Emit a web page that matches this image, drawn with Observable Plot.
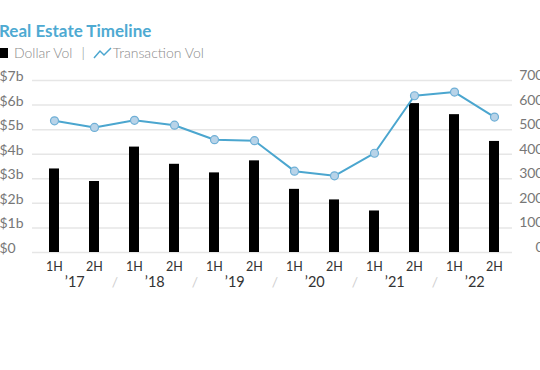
<!DOCTYPE html>
<html>
<head>
<meta charset="utf-8">
<script src="https://cdn.jsdelivr.net/npm/d3@7"></script>
<script src="https://cdn.jsdelivr.net/npm/@observablehq/plot@0.6"></script>
<style>
  html, body { margin: 0; padding: 0; background: #fff; overflow: hidden; width: 540px; height: 370px; }
  #header { position: relative; height: 62px; font-family: Lato, "Open Sans", sans-serif; }
  #title { position: absolute; left: -1px; top: 20px; font-size: 17px; font-weight: 700; color: #4eaad2; white-space: nowrap; line-height: 22px; }
  #legend { position: absolute; left: -1px; top: 45px; font-size: 14px; font-weight: 300; color: #8a8a8a; white-space: nowrap; line-height: 16px; display: flex; align-items: center; }
  .sw { display: inline-block; width: 9px; height: 10px; background: #000; margin-right: 6px; }
  .sep { margin: 0 8px 0 9px; color: #888; }
  #chart svg { display: block; }
</style>
</head>
<body>
<div id="header">
  <div id="title">Real Estate Timeline</div>
  <div id="legend"><span class="sw"></span><span>Dollar Vol</span><span class="sep">|</span><svg width="19" height="12" style="margin-right:1px"><polyline points="1,11 7,4 11,8 18,1" fill="none" stroke="#4ba6cf" stroke-width="1.5"/></svg><span>Transaction Vol</span></div>
</div>
<div id="chart"></div>
<script>
const halves = ["1H","2H","1H","2H","1H","2H","1H","2H","1H","2H","1H","2H"];
const years = ["’17","’18","’19","’20","’21","’22"];
const dollarVol = [3.4, 2.89, 4.29, 3.59, 3.24, 3.73, 2.57, 2.14, 1.69, 6.06, 5.61, 4.52]; // $ billions
const transactionVol = [536, 509, 538, 518, 459, 455, 331, 312, 404, 638, 653, 551];
const leftTicks = [0, 1, 2, 3, 4, 5, 6, 7];
const leftLabels = ["$0","$1b","$2b","$3b","$4b","$5b","$6b","$7b"];
const rightLabels = ["0","100","200","300","400","500","600","700"];

const periods = halves.map((h, i) => years[Math.floor(i / 2)] + " " + h);
const rows = periods.map((p, i) => ({period: p, half: halves[i], dollar: dollarVol[i], tx: transactionVol[i] / 100}));
const yearRows = years.map((y, i) => ({year: y, first: periods[i * 2], second: periods[i * 2 + 1], last: i === years.length - 1}));

const font = "Lato, 'Open Sans', sans-serif";

const chart = Plot.plot({
  width: 540,
  height: 240,
  marginTop: 18,
  marginBottom: 50,
  marginLeft: 32,
  marginRight: 28,
  style: {fontFamily: font, background: "white"},
  x: {type: "band", domain: periods, paddingInner: 0.75, paddingOuter: 0.23, insetLeft: 4, align: 0.5},
  y: {domain: [0, 7]},
  marks: [
    Plot.gridY(leftTicks, {stroke: "#e6e6e6", strokeOpacity: 1, strokeWidth: 1.5}),
    Plot.axisY(leftTicks, {anchor: "left", tickSize: 0, tickPadding: 0, textAnchor: "start", dx: -33, dy: -4,
      tickFormat: (d) => leftLabels[leftTicks.indexOf(d)], fontSize: 14, fill: "#777", label: null}),
    Plot.axisY(leftTicks, {anchor: "right", tickSize: 0, tickPadding: 0, textAnchor: "end", dx: 31, dy: -5,
      tickFormat: (d) => rightLabels[leftTicks.indexOf(d)], fontSize: 14, fill: "#777", label: null}),
    Plot.barY(rows, {x: "period", y: "dollar", fill: "#000"}),
    Plot.line(rows, {x: "period", y: "tx", stroke: "#4ba6cf", strokeWidth: 2}),
    Plot.dot(rows, {x: "period", y: "tx", r: 4, fill: "#b8d3e8", stroke: "#6eafd6", strokeWidth: 1.2}),
    Plot.axisX({tickSize: 0, tickPadding: 10, tickFormat: (d) => halves[periods.indexOf(d)], fontSize: 12.5, fill: "#333", label: null}),
    Plot.text(yearRows, {x: "first", text: "year", dx: 20.3, frameAnchor: "bottom", dy: 34, fontSize: 14.5, fill: "#333"}),
    Plot.text(yearRows.filter(d => !d.last), {x: "second", text: () => "/", dx: 20.3, frameAnchor: "bottom", dy: 34, fontSize: 14, fill: "#cfcfcf"})
  ]
});
document.getElementById("chart").appendChild(chart);
</script>
</body>
</html>
